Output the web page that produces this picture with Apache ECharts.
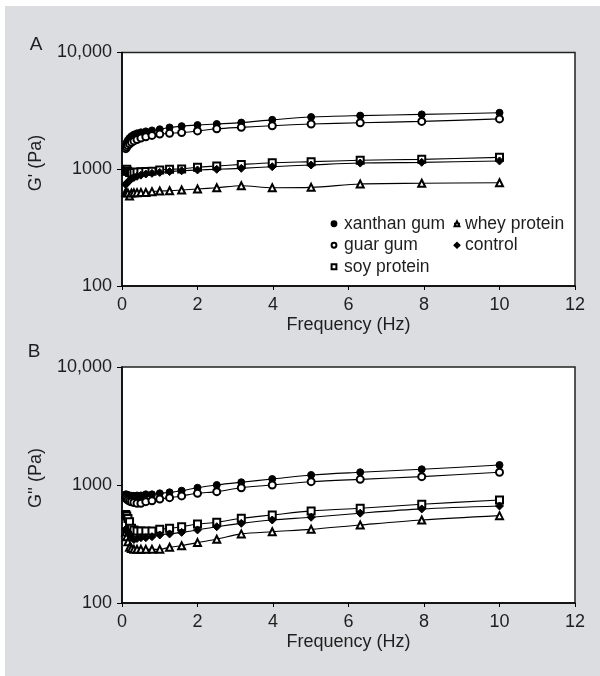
<!DOCTYPE html>
<html>
<head>
<meta charset="utf-8">
<script src="https://cdn.jsdelivr.net/npm/echarts@6/dist/echarts.min.js"></script>
<style>
html,body{margin:0;padding:0;background:#fff;}
#chart{width:600px;height:676px;}
</style>
</head>
<body>
<div id="chart"></div>
<script>
// Frequency sweep (Hz)
var freq = [0.1, 0.126, 0.158, 0.2, 0.251, 0.316, 0.398, 0.501, 0.631, 0.794, 1.0,
            1.26, 1.58, 2.0, 2.51, 3.16, 3.98, 5.01, 6.31, 7.94, 10.0];
var seriesNames = ['xanthan gum', 'guar gum', 'soy protein', 'whey protein', 'control'];
var xTicks = [0, 2, 4, 6, 8, 10, 12];
var yTicks = [100, 1000, 10000];

// Panel A: G' (Pa)
var gpXanthan = [1600, 1700, 1780, 1850, 1920, 1980, 2030, 2070, 2110, 2150, 2200,
                 2280, 2340, 2390, 2440, 2510, 2650, 2800, 2880, 2950, 3050];
var gpGuar    = [1500, 1550, 1600, 1650, 1700, 1750, 1800, 1850, 1900, 1950, 2000,
                 2030, 2060, 2130, 2220, 2285, 2360, 2440, 2500, 2570, 2700];
var gpSoy     = [960, 1000, 960, 940, 930, 940, 945, 950, 955, 960, 985,
                 1000, 1005, 1040, 1066, 1100, 1138, 1162, 1193, 1216, 1265];
var gpWhey    = [640, 630, 625, 590, 625, 628, 630, 632, 632, 643, 651,
                 655, 664, 678, 695, 723, 695, 700, 748, 758, 767];
var gpControl = [740, 760, 780, 800, 830, 850, 870, 890, 910, 922, 940,
                 955, 970, 986, 999, 1018, 1052, 1087, 1130, 1146, 1178];

// Panel B: G'' (Pa)
var gppXanthan = [833, 830, 820, 815, 810, 810, 815, 815, 833, 833, 850,
                  867, 895, 948, 1000, 1055, 1124, 1216, 1282, 1359, 1477];
var gppGuar    = [781, 760, 745, 730, 720, 710, 700, 700, 722, 736, 761,
                  781, 808, 850, 878, 948, 1000, 1067, 1117, 1177, 1282];
var gppSoy     = [563, 546, 520, 489, 430, 415, 407, 407, 407, 407, 421,
                  430, 443, 467, 483, 522, 557, 603, 635, 687, 747];
var gppWhey    = [400, 365, 330, 297, 290, 285, 285, 285, 285, 285, 285,
                  297, 306, 325, 347, 385, 402, 421, 458, 505, 550];
var gppControl = [421, 405, 400, 375, 360, 345, 352, 358, 358, 365, 377,
                  385, 397, 416, 443, 473, 505, 533, 577, 627, 664];

var panelA = [gpXanthan, gpGuar, gpSoy, gpWhey, gpControl];
var panelB = [gppXanthan, gppGuar, gppSoy, gppWhey, gppControl];
var symbols = ['circle', 'emptyCircle', 'emptyRect', 'emptyTriangle', 'diamond'];
var symbolSizes = [7, 7, 7, 7, 8];

function pairs(vals) { return freq.map(function (f, i) { return [f, vals[i]]; }); }

var txt = '#1e1e1e';
var font = "'Liberation Sans', Arial, sans-serif";
var fs = 18;

function xAxis(gi) {
  return {
    type: 'value', gridIndex: gi, min: 0, max: 12, interval: 2,
    name: 'Frequency (Hz)', nameLocation: 'middle', nameGap: 30,
    nameTextStyle: { fontSize: fs, color: txt, fontFamily: font },
    axisLine: { show: true, lineStyle: { color: '#000', width: 1.5 } },
    axisTick: { show: true, length: 4, lineStyle: { color: '#000' } },
    axisLabel: { fontSize: fs, color: txt, fontFamily: font, margin: 10,
      formatter: function (v) { return xTicks.indexOf(v) >= 0 ? String(v) : ''; } },
    splitLine: { show: false }
  };
}
function yAxis(gi) {
  return {
    type: 'log', logBase: 10, gridIndex: gi, min: 100, max: 10000,
    axisLine: { show: true, lineStyle: { color: '#000', width: 1.5 } },
    axisTick: { show: true, length: 5, lineStyle: { color: '#000' } },
    minorTick: { show: false },
    axisLabel: { fontSize: fs, color: txt, fontFamily: font, margin: 10,
      formatter: function (v) {
        if (yTicks.indexOf(v) < 0) return '';
        return v === 10000 ? '10,000' : String(v);
      } },
    splitLine: { show: false }
  };
}

var series = [];
[panelA, panelB].forEach(function (panel, gi) {
  panel.forEach(function (vals, si) {
    series.push({
      name: seriesNames[si], type: 'line', xAxisIndex: gi, yAxisIndex: gi,
      data: pairs(vals), smooth: 0.3,
      symbol: symbols[si], symbolSize: symbolSizes[si],
      lineStyle: { color: '#000', width: 1.1 },
      itemStyle: { color: '#000', borderColor: '#000', borderWidth: 1 },
      emphasis: { disabled: true }, animation: false
    });
  });
});

var legendText = { fontSize: 17.5, color: txt, fontFamily: font, lineHeight: 21.5 };

var chart = echarts.init(document.getElementById('chart'));
chart.setOption({
  animation: false,
  backgroundColor: '#fff',
  graphic: [
    { type: 'rect', z: -10, shape: { x: 5, y: 6, width: 600, height: 680 }, style: { fill: '#dcdde0' } },
    { type: 'text', x: 36, y: 45, style: { text: 'A', fontSize: 19, fill: txt, fontFamily: font, align: 'center', verticalAlign: 'middle' } },
    { type: 'text', x: 34, y: 352, style: { text: 'B', fontSize: 19, fill: txt, fontFamily: font, align: 'center', verticalAlign: 'middle' } },
    { type: 'text', x: 36, y: 163, rotation: Math.PI / 2, style: { text: "G' (Pa)", fontSize: fs, fill: txt, fontFamily: font, align: 'center', verticalAlign: 'middle' } },
    { type: 'text', x: 36, y: 478, rotation: Math.PI / 2, style: { text: "G'' (Pa)", fontSize: fs, fill: txt, fontFamily: font, align: 'center', verticalAlign: 'middle' } }
  ],
  grid: [
    { left: 122, top: 52.5, width: 453, height: 233.5, show: true, backgroundColor: '#fff', borderColor: '#222', borderWidth: 1.5 },
    { left: 122, top: 367, width: 453, height: 236, show: true, backgroundColor: '#fff', borderColor: '#222', borderWidth: 1.5 }
  ],
  xAxis: [xAxis(0), xAxis(1)],
  yAxis: [yAxis(0), yAxis(1)],
  legend: [
    { orient: 'vertical', left: 325, top: 208, itemWidth: 6, itemHeight: 6, itemGap: 0,
      data: ['xanthan gum', 'guar gum', 'soy protein'],
      textStyle: Object.assign({ padding: [0, 0, 0, 2] }, legendText) },
    { orient: 'vertical', left: 448, top: 208, itemWidth: 6, itemHeight: 6, itemGap: 0,
      data: ['whey protein', 'control'],
      textStyle: Object.assign({ padding: [0, 0, 0, 0] }, legendText) }
  ],
  series: series
});
</script>
</body>
</html>
